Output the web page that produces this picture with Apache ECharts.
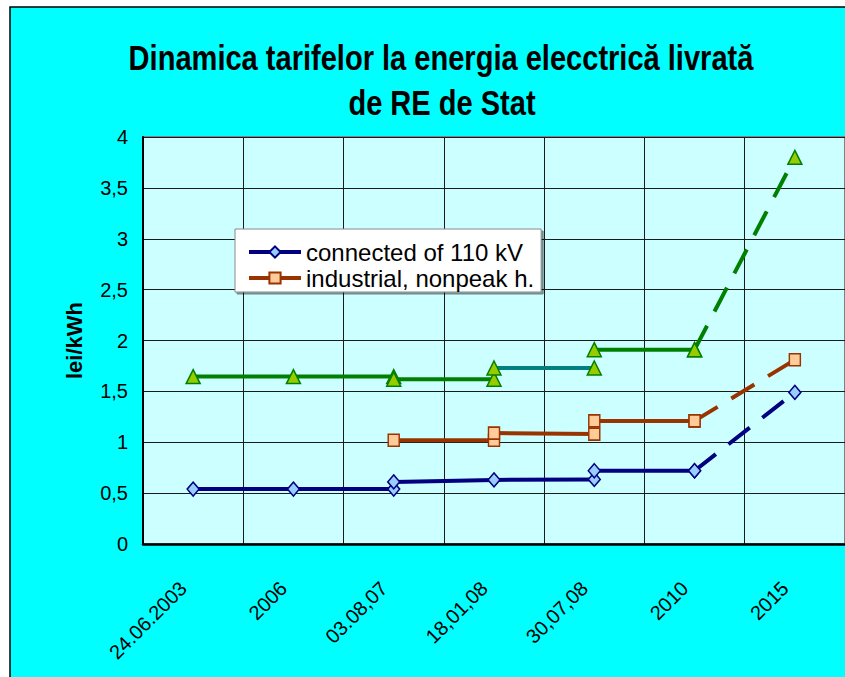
<!DOCTYPE html>
<html>
<head>
<meta charset="utf-8">
<script src="https://cdn.jsdelivr.net/npm/echarts@6/dist/echarts.min.js"></script>
<style>
html,body{margin:0;padding:0;background:#ffffff;}
#chart{width:845px;height:677px;}
</style>
</head>
<body>
<div id="chart"></div>
<script>
// ---- data ----
const titleLine1 = 'Dinamica tarifelor la energia elecctrică livrată';
const titleLine2 = 'de RE de Stat';
const yAxisName = 'lei/kWh';
const categories = ['24.06.2003', '2006', '03.08,07', '18,01,08', '30,07,08', '2010', '2015'];
const yTicks = {min: 0, max: 4, step: 0.5};

const nameBlue = 'connected of 110 kV';
const nameOrange = 'industrial, nonpeak h.';
const nameGreen = 'industrial, peak h.';
const nameTeal = 'industrial, peak h. ';

// connected of 110 kV (segments)
const blueA = [0.54, 0.54, 0.54, null, null, null, null];
const blueB = [null, null, 0.61, 0.63, 0.635, null, null];
const blueC = [null, null, null, null, 0.72, 0.72, null];
const blueForecast = [null, null, null, null, null, 0.72, 1.49];

// industrial, nonpeak h. (segments)
const orangeA = [null, null, 1.02, 1.02, null, null, null];
const orangeB = [null, null, null, 1.09, 1.08, null, null];
const orangeC = [null, null, null, null, 1.21, 1.21, null];
const orangeForecast = [null, null, null, null, null, 1.21, 1.81];

// peak tariff (segments)
const greenA = [1.645, 1.645, 1.645, null, null, null, null];
const greenB = [null, null, 1.62, 1.62, null, null, null];
const tealA = [null, null, null, 1.73, 1.73, null, null];
const greenC = [null, null, null, null, 1.91, 1.91, null];
const greenForecast = [null, null, null, null, null, 1.91, 3.8];

// ---- styles ----
const FONT = "'Liberation Sans', Arial, sans-serif";
const dash = [27, 16];
const blueStyle = {
  line: '#000080', symbol: 'diamond', size: [12, 14],
  item: {color: '#99ccff', borderColor: '#000080', borderWidth: 1.5}
};
const orangeStyle = {
  line: '#993300', symbol: 'rect', size: [11, 12],
  item: {color: '#ffcc99', borderColor: '#993300', borderWidth: 1.5}
};
const greenStyle = {
  line: '#008000', symbol: 'triangle', size: [14, 14],
  item: {color: '#99cc00', borderColor: '#008000', borderWidth: 1.5}
};

function seg(name, data, st, lineColor, dashed) {
  return {
    name: name,
    type: 'line',
    data: data,
    symbol: st.symbol,
    symbolSize: st.size,
    showAllSymbol: true,
    connectNulls: false,
    lineStyle: {color: lineColor || st.line, width: 4, type: dashed ? dash : 'solid'},
    itemStyle: st.item,
    emphasis: {disabled: true},
    animation: false,
    z: 3
  };
}

const series = [
  seg(nameBlue, blueA, blueStyle),
  seg(nameBlue, blueB, blueStyle),
  seg(nameBlue, blueC, blueStyle),
  seg(nameBlue, blueForecast, blueStyle, null, true),
  seg(nameOrange, orangeA, orangeStyle),
  seg(nameOrange, orangeB, orangeStyle),
  seg(nameOrange, orangeC, orangeStyle),
  seg(nameOrange, orangeForecast, orangeStyle, null, true),
  seg(nameGreen, greenA, greenStyle),
  seg(nameGreen, greenB, greenStyle),
  seg(nameTeal, tealA, greenStyle, '#008080'),
  seg(nameGreen, greenC, greenStyle),
  seg(nameGreen, greenForecast, greenStyle, null, true)
];

const chart = echarts.init(document.getElementById('chart'), null, {renderer: 'svg'});
const option = {
  animation: false,
  backgroundColor: '#ffffff',
  graphic: [
    {
      type: 'rect', z: -100, silent: true,
      shape: {x: 10, y: 7, width: 860, height: 700},
      style: {fill: '#00ffff', stroke: '#000000', lineWidth: 1.5}
    },
    {
      type: 'text', x: 441, y: 58, scaleX: 0.83, z: 10,
      style: {text: titleLine1, font: "bold 35px " + FONT, fill: '#000', align: 'center', verticalAlign: 'middle'}
    },
    {
      type: 'text', x: 442, y: 103, scaleX: 0.83, z: 10,
      style: {text: titleLine2, font: "bold 35px " + FONT, fill: '#000', align: 'center', verticalAlign: 'middle'}
    }
  ],
  grid: {
    left: 143, top: 137, width: 706, height: 407,
    show: true, backgroundColor: '#ccffff', borderColor: '#808080', borderWidth: 2,
    containLabel: false
  },
  legend: {
    data: [nameBlue, nameOrange],
    orient: 'vertical',
    left: 235, top: 229,
    padding: [11, 7, 2, 12],
    itemGap: 2,
    itemWidth: 52, itemHeight: 14,
    backgroundColor: '#ffffff',
    borderColor: '#888888', borderWidth: 1,
    shadowColor: 'rgba(0,0,0,0.45)', shadowOffsetX: 2, shadowOffsetY: 2, shadowBlur: 0,
    lineStyle: {width: 4},
    textStyle: {fontFamily: FONT, fontSize: 24, color: '#000', lineHeight: 24},
    selectedMode: false
  },
  xAxis: {
    type: 'category',
    data: categories,
    boundaryGap: true,
    axisLine: {show: true, lineStyle: {color: '#000', width: 2.5}},
    axisTick: {show: false},
    splitLine: {show: true, interval: 0, lineStyle: {color: '#1a1a1a', width: 1}},
    axisLabel: {
      interval: 0, rotate: 45, margin: 31,
      padding: [0, 14, 0, 0],
      fontFamily: FONT, fontSize: 20, color: '#000'
    }
  },
  yAxis: {
    type: 'value',
    min: yTicks.min, max: yTicks.max, interval: yTicks.step,
    name: yAxisName,
    nameLocation: 'middle',
    nameGap: 58,
    nameTextStyle: {fontFamily: FONT, fontSize: 22, fontWeight: 'bold', color: '#000'},
    axisLine: {show: true, lineStyle: {color: '#000', width: 2}},
    axisTick: {show: false},
    splitLine: {show: true, lineStyle: {color: '#1a1a1a', width: 1}},
    axisLabel: {
      margin: 15,
      fontFamily: FONT, fontSize: 20, color: '#000',
      formatter: function (v) { return String(v).replace('.', ','); }
    }
  },
  series: series
};
chart.setOption(option);
</script>
</body>
</html>
